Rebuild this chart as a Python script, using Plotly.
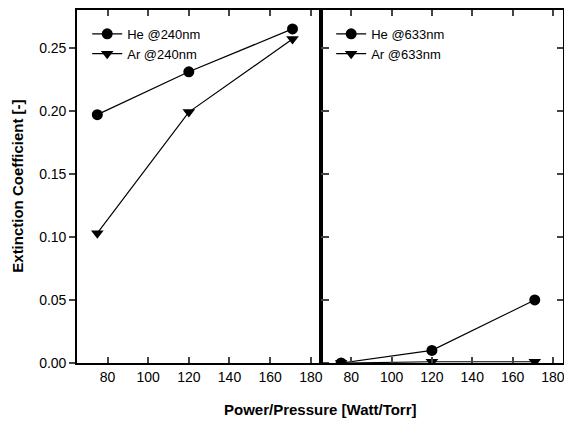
import plotly.graph_objects as go

x_vals = [75, 120, 171]
he_240 = [0.197, 0.231, 0.265]
ar_240 = [0.103, 0.199, 0.257]
he_633 = [0.0, 0.010, 0.050]
ar_633 = [0.0, 0.001, 0.001]
x_ticks = [80, 100, 120, 140, 160, 180]
y_ticks = [0.00, 0.05, 0.10, 0.15, 0.20, 0.25]

FONT = "Liberation Sans, Arial, sans-serif"
fig = go.Figure()

def add(y, name, sym, xa, ya, leg):
    fig.add_trace(go.Scatter(
        x=x_vals, y=y, name=name, mode="lines+markers",
        line=dict(color="black", width=1.2),
        marker=dict(symbol=sym, size=11, color="black"),
        xaxis=xa, yaxis=ya, legend=leg))

add(he_240, "He @240nm", "circle", "x", "y", "legend")
add(ar_240, "Ar @240nm", "triangle-down", "x", "y", "legend")
add(he_633, "He @633nm", "circle", "x2", "y2", "legend2")
add(ar_633, "Ar @633nm", "triangle-down", "x2", "y2", "legend2")

ax_common = dict(range=[65, 185], tickvals=x_ticks, ticks="inside", ticklen=6,
                 tickwidth=1.5, showline=True, linecolor="black", linewidth=2,
                 mirror="ticks", showgrid=False, zeroline=False,
                 tickfont=dict(family=FONT, size=14, color="black"))
ay_common = dict(range=[0, 0.28], tickvals=y_ticks, ticklen=6, tickwidth=1.5,
                 showline=True, linecolor="black", linewidth=1.6, mirror="ticks",
                 showgrid=False, zeroline=False,
                 tickfont=dict(family=FONT, size=14, color="black"))

leg_style = dict(bgcolor="rgba(0,0,0,0)", borderwidth=0,
                 font=dict(family=FONT, size=13, color="black"),
                 itemwidth=30, tracegroupgap=0, xanchor="left", yanchor="top")

fig.update_layout(
    width=572, height=423,
    margin=dict(l=69, r=17, t=0, b=68),
    paper_bgcolor="white", plot_bgcolor="white",
    xaxis=dict(domain=[0, 0.502], anchor="y", **ax_common),
    yaxis=dict(domain=[0, 1], anchor="x", ticks="outside",
               tickformat=".2f", **ay_common),
    xaxis2=dict(domain=[0.502, 1], anchor="y2", **ax_common),
    yaxis2=dict(domain=[0, 1], anchor="x2", ticks="inside",
                showticklabels=False, **ay_common),
    legend=dict(x=0.021, y=0.975, **leg_style),
    legend2=dict(x=0.523, y=0.975, **leg_style),
    annotations=[
        dict(text="<b>Power/Pressure [Watt/Torr]</b>", xref="paper", yref="paper",
             x=0.5, y=-0.132, xanchor="center", yanchor="middle", showarrow=False,
             font=dict(family=FONT, size=15, color="black")),
        dict(text="<b>Extinction Coefficient [-]</b>", xref="paper", yref="paper",
             x=-0.123, y=0.5, xanchor="center", yanchor="middle", showarrow=False,
             textangle=-90, font=dict(family=FONT, size=15, color="black")),
    ],
)

fig.write_html("out.html")
